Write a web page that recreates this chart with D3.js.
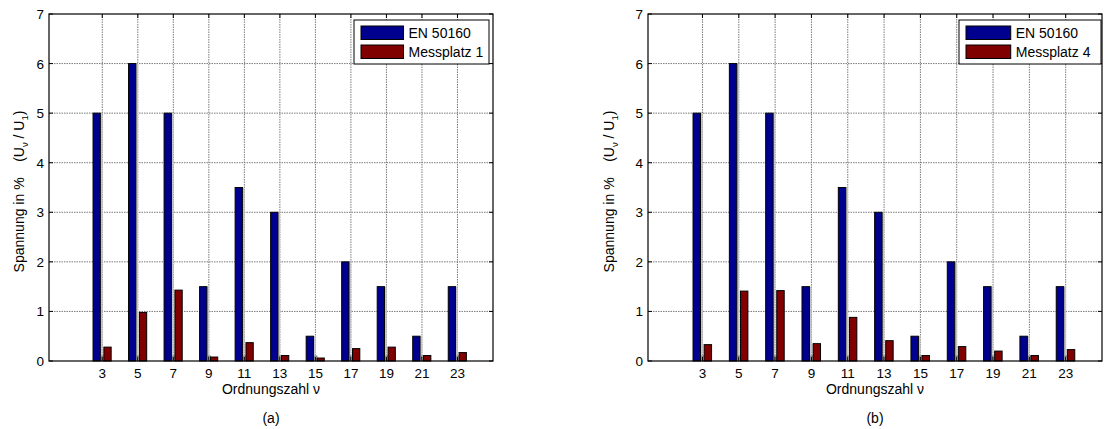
<!DOCTYPE html>
<html>
<head>
<meta charset="utf-8">
<script src="https://cdn.jsdelivr.net/npm/d3@7/dist/d3.min.js"></script>
<style>
  html, body { margin: 0; padding: 0; background: #fff; }
  svg { display: block; }
  text { font-family: Arial, "Liberation Sans", sans-serif; fill: #000; }
</style>
</head>
<body>
<svg id="chart" width="1104" height="429"></svg>
<script>
// Harmonic orders
const orders = [3, 5, 7, 9, 11, 13, 15, 17, 19, 21, 23];
// EN 50160 limits (% of fundamental)
const en50160 = [5, 6, 5, 1.5, 3.5, 3, 0.5, 2, 1.5, 0.5, 1.5];
// Measured harmonic voltages
const messplatz1 = [0.28, 0.98, 1.43, 0.08, 0.37, 0.11, 0.06, 0.25, 0.28, 0.11, 0.17];
const messplatz4 = [0.33, 1.41, 1.42, 0.35, 0.88, 0.41, 0.11, 0.29, 0.20, 0.11, 0.23];
// Axis ticks
const yTicks = [0, 1, 2, 3, 4, 5, 6, 7];
const xDomain = [0, 25];
const yDomain = [0, 7];

const panels = [
  { x0: 49, x1: 493, y0: 14, y1: 361, tag: "(a)", name: "Messplatz 1", values: messplatz1,
    ylabX: 19, legW: 135, legInset: 4 },
  { x0: 648, x1: 1102, y0: 14, y1: 361, tag: "(b)", name: "Messplatz 4", values: messplatz4,
    ylabX: 609, legW: 142, legInset: 1 }
];

const svg = d3.select("#chart");
const BLUE = "#00008f", RED = "#800000";
const FS_TICK = 13.5, FS_LAB = 14;

panels.forEach(p => {
  const x = d3.scaleLinear().domain(xDomain).range([p.x0, p.x1]);
  const y = d3.scaleLinear().domain(yDomain).range([p.y1, p.y0]);
  const g = svg.append("g");

  // grid
  g.append("g").selectAll("line").data(orders).join("line")
    .attr("x1", d => x(d)).attr("x2", d => x(d))
    .attr("y1", y(7)).attr("y2", y(0))
    .attr("stroke", "#7a7a7a").attr("stroke-dasharray", "1.5,1").attr("stroke-width", 1);
  g.append("g").selectAll("line").data(yTicks.slice(1, -1)).join("line")
    .attr("x1", p.x0).attr("x2", p.x1)
    .attr("y1", d => y(d)).attr("y2", d => y(d))
    .attr("stroke", "#7a7a7a").attr("stroke-dasharray", "1.5,1").attr("stroke-width", 1);

  const rows = orders.map((o, i) => ({ o, en: en50160[i], m: p.values[i] }));

  // shading beside the limit bars
  g.append("g").selectAll("rect").data(rows).join("rect")
    .attr("x", d => x(d.o - 0.11)).attr("width", 2.2)
    .attr("y", d => y(d.en)).attr("height", d => y(0) - y(d.en))
    .attr("fill", "#c4c4c4");
  g.append("g").selectAll("rect").data(rows).join("rect")
    .attr("x", d => x(d.o - 0.03)).attr("width", x(0.12) - x(0))
    .attr("y", y(0.1)).attr("height", y(0) - y(0.1))
    .attr("fill", "#d8d8d8").attr("stroke", "#666").attr("stroke-width", 0.8);

  // EN 50160 bars
  g.append("g").selectAll("rect").data(rows).join("rect")
    .attr("x", d => x(d.o - 0.52)).attr("width", x(0.41) - x(0))
    .attr("y", d => y(d.en)).attr("height", d => y(0) - y(d.en))
    .attr("fill", BLUE).attr("stroke", "#000").attr("stroke-width", 1);
  // measured bars
  g.append("g").selectAll("rect").data(rows).join("rect")
    .attr("x", d => x(d.o + 0.09)).attr("width", x(0.41) - x(0))
    .attr("y", d => y(d.m)).attr("height", d => y(0) - y(d.m))
    .attr("fill", RED).attr("stroke", "#000").attr("stroke-width", 1);

  // frame
  g.append("rect").attr("x", p.x0).attr("y", p.y0)
    .attr("width", p.x1 - p.x0).attr("height", p.y1 - p.y0)
    .attr("fill", "none").attr("stroke", "#000").attr("stroke-width", 1.2);

  // ticks on all four sides, pointing inward
  const tl = 4;
  g.append("g").selectAll("line").data(orders).join("line")
    .attr("x1", d => x(d)).attr("x2", d => x(d)).attr("y1", y(0)).attr("y2", y(0) - tl)
    .attr("stroke", "#000");
  g.append("g").selectAll("line").data(orders).join("line")
    .attr("x1", d => x(d)).attr("x2", d => x(d)).attr("y1", y(7)).attr("y2", y(7) + tl)
    .attr("stroke", "#000");
  g.append("g").selectAll("line").data(yTicks).join("line")
    .attr("x1", p.x0).attr("x2", p.x0 + tl).attr("y1", d => y(d)).attr("y2", d => y(d))
    .attr("stroke", "#000");
  g.append("g").selectAll("line").data(yTicks).join("line")
    .attr("x1", p.x1).attr("x2", p.x1 - tl).attr("y1", d => y(d)).attr("y2", d => y(d))
    .attr("stroke", "#000");

  // tick labels
  g.append("g").selectAll("text").data(orders).join("text")
    .attr("x", d => x(d)).attr("y", y(0) + 16.5)
    .attr("text-anchor", "middle").attr("font-size", FS_TICK).text(d => d);
  g.append("g").selectAll("text").data(yTicks).join("text")
    .attr("x", p.x0 - 5).attr("y", d => y(d) + 5)
    .attr("text-anchor", "end").attr("font-size", FS_TICK).text(d => d);

  // axis titles
  const cx = (p.x0 + p.x1) / 2;
  g.append("text").attr("x", cx).attr("y", y(0) + 32.5)
    .attr("text-anchor", "middle").attr("font-size", FS_LAB).text("Ordnungszahl ν");
  g.append("text").attr("x", cx).attr("y", 423)
    .attr("text-anchor", "middle").attr("font-size", FS_LAB).text(p.tag);

  const yl = g.append("text")
    .attr("transform", `translate(${p.ylabX + 4.5},${(p.y0 + p.y1) / 2 + 4}) rotate(-90)`)
    .attr("text-anchor", "middle").attr("font-size", FS_LAB);
  yl.append("tspan").text("Spannung in %\u00a0\u00a0\u00a0\u00a0(U");
  yl.append("tspan").attr("font-size", 9.5).attr("dy", 4).text("ν");
  yl.append("tspan").attr("dy", -4).text(" / U");
  yl.append("tspan").attr("font-size", 9.5).attr("dy", 4).text("1");
  yl.append("tspan").attr("dy", -4).text(")");

  // legend
  const lx = p.x1 - p.legInset - p.legW, ly = 20;
  const lg = g.append("g");
  lg.append("rect").attr("x", lx).attr("y", ly).attr("width", p.legW).attr("height", 44)
    .attr("fill", "#fff").attr("stroke", "#000").attr("stroke-width", 1);
  const items = [{ c: BLUE, t: "EN 50160" }, { c: RED, t: p.name }];
  const sw = p.legW * 0.315;
  items.forEach((it, i) => {
    lg.append("rect").attr("x", lx + 7).attr("y", ly + 6 + i * 19)
      .attr("width", sw).attr("height", 13.5)
      .attr("fill", it.c).attr("stroke", "#000").attr("stroke-width", 1);
    lg.append("text").attr("x", lx + 7 + sw + 5).attr("y", ly + 18 + i * 19)
      .attr("font-size", FS_LAB).text(it.t);
  });
});
</script>
</body>
</html>
